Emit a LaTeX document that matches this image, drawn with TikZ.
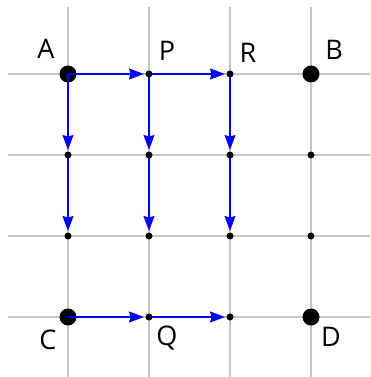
\documentclass[tikz,border=0pt]{standalone}
\usepackage{fontspec}
\setmainfont{Open Sans}
\usetikzlibrary{arrows.meta}
\begin{document}
\begin{tikzpicture}[x=1pt,y=-1pt,
  gridline/.style={draw=black!22, line width=1.3pt},
  bigdot/.style={circle, fill=black, inner sep=0pt, minimum size=17pt},
  smalldot/.style={circle, fill=black, inner sep=0pt, minimum size=7pt},
  bluearrow/.style={draw=blue, line width=1.3pt, shorten >=5pt,
    -{Stealth[length=15pt,width=11pt,inset=1.5pt]}},
  lbl/.style={font=\fontsize{27}{27}\selectfont, text=black, inner sep=0pt}
]
\useasboundingbox (0,0) rectangle (370,377);
% grid
\foreach \y in {74,155,236,317} \draw[gridline] (8,\y) -- (370,\y);
\foreach \x in {68,149,230,311} \draw[gridline] (\x,7) -- (\x,377);
% points
\coordinate (a) at (68,74);
\coordinate (p) at (149,74);
\coordinate (r) at (230,74);
\coordinate (b) at (311,74);
\coordinate (a2) at (68,155);
\coordinate (p2) at (149,155);
\coordinate (r2) at (230,155);
\coordinate (b2) at (311,155);
\coordinate (a3) at (68,236);
\coordinate (p3) at (149,236);
\coordinate (r3) at (230,236);
\coordinate (b3) at (311,236);
\coordinate (c) at (68,317);
\coordinate (q) at (149,317);
\coordinate (s) at (230,317);
\coordinate (d) at (311,317);
% big dots
\foreach \n in {a,b,c,d} \node[bigdot] at (\n) {};
% arrows
\draw[bluearrow] (a) -- (p);
\draw[bluearrow] (p) -- (r);
\draw[bluearrow] (a) -- (a2);
\draw[bluearrow] (a2) -- (a3);
\draw[bluearrow] (p) -- (p2);
\draw[bluearrow] (p2) -- (p3);
\draw[bluearrow] (r) -- (r2);
\draw[bluearrow] (r2) -- (r3);
\draw[bluearrow] (c) -- (q);
\draw[bluearrow] (q) -- (s);
% small dots
\foreach \n in {p,r,a2,p2,r2,b2,a3,p3,r3,b3,q,s} \node[smalldot] at (\n) {};
% labels
\node[lbl] (la) at (46,49) {A};
\node[lbl] (lp) at (167,51) {P};
\node[lbl] (lr) at (248,53) {R};
\node[lbl] (lb) at (334,50) {B};
\node[lbl] (lc) at (48,340) {C};
\node[lbl] (lq) at (167,338) {Q};
\node[lbl] (ld) at (331,337) {D};
\end{tikzpicture}
\end{document}
